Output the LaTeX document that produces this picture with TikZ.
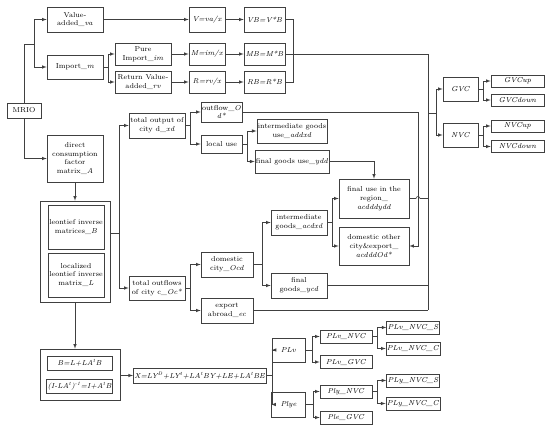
\documentclass[tikz,border=0pt]{standalone}
\usepackage{amsmath}
\usepackage{tikz}
\usetikzlibrary{%
	calc,%
	arrows
}

\tikzset{
	blk/.style={draw=black!75,line width=0.6pt,align=center,inner sep=1pt,
		font=\fontsize{7.2}{8.8}\selectfont},
	sz/.style 2 args={minimum width=#1pt,minimum height=#2pt},
	cn/.style={draw=black!75,line width=0.6pt},
	arr/.style={cn,->,>=latex}
}
\newcommand{\sps}[1]{\textsuperscript{#1}}

\begin{document}
\begin{tikzpicture}[x=1pt,y=-1pt]
			\useasboundingbox (0,0) rectangle (550,427);
			% top rows
			\node[blk,sz={34}{15}] (mrio) at (24,110.5) {MRIO};
			\node[blk,sz={56}{25}] (va) at (75,19.5) {Value-\\added\_\textit{va}};
			\node[blk,sz={56}{24}] (imp) at (75,67) {Import\_\textit{m}};
			\node[blk,sz={56}{22}] (pim) at (143,54) {Pure\\Import\_\textit{im}};
			\node[blk,sz={56}{22}] (rva) at (143,82) {Return Value-\\added\_\textit{rv}};
			\node[blk,sz={36}{25}] (V) at (207,19.5) {\textit{V=va/x}};
			\node[blk,sz={36}{22}] (M) at (207,54) {\textit{M=im/x}};
			\node[blk,sz={36}{22}] (R) at (207,82) {\textit{R=rv/x}};
			\node[blk,sz={41}{25}] (VB) at (264.5,19.5) {\textit{VB=V*B}};
			\node[blk,sz={41}{22}] (MB) at (264.5,54) {\textit{MB=M*B}};
			\node[blk,sz={41}{22}] (RB) at (264.5,82) {\textit{RB=R*B}};
			% left column
			\node[blk,sz={56}{47}] (dcf) at (75,158.5) {direct\\consumption\\factor\\matrix\_\textit{A}};
			\node[blk,sz={70}{101}] (leo) at (75,251.5) {};
			\node[blk,sz={56}{44}] (leoB) at (76,227) {leontief inverse\\matrices\_\textit{B}};
			\node[blk,sz={56}{44}] (leoL) at (76,275) {localized\\leontief inverse\\matrix\_\textit{L}};
			\node[blk,sz={80}{51}] (fout) at (80,374.5) {};
			\node[blk,sz={65}{14}] (fB) at (79.5,363) {\textit{B=L+LA\sps{t}B}};
			\node[blk,sz={65}{14}] (fI) at (79.5,386) {\textit{(I-LA\sps{t})\sps{-1}=I+A\sps{t}B}};
			\node[blk,sz={124}{15},align=left,anchor=west] (X) at (133,375.5)
			{\textit{X=LY\sps{D}+LY\sps{t}+LA\sps{t}BY+LE+LA\sps{t}BE}};
			% middle part
			\node[blk,sz={56}{25}] (tod) at (157,125.5) {total output of\\city d\_\textit{xd}};
			\node[blk,sz={56}{24}] (toc) at (157,288) {total outflows\\of city c\_\textit{Oc*}};
			\node[blk,sz={41}{20}] (outf) at (221.5,112) {outflow\_\textit{O}\\\textit{d*}};
			\node[blk,sz={41}{18}] (lu) at (221.5,144) {local use};
			\node[blk,sz={70}{24}] (igu) at (292,131) {intermediate goods\\use\_\textit{addxd}};
			\node[blk,sz={70}{23}] (fgu) at (292,161.5) {final goods use\_\textit{ydd}};
			\node[blk,sz={70}{39}] (fur) at (374,198.5) {final use in the\\region\_\\\textit{acdddydd}};
			\node[blk,sz={70}{38}] (doc) at (374,246) {domestic other\\city\&export\_\\\textit{acdddOd*}};
			\node[blk,sz={56}{25}] (ig) at (299,222.5) {intermediate\\goods\_\textit{acdxd}};
			\node[blk,sz={52}{25}] (dc) at (227,264.5) {domestic\\city\_\textit{Ocd}};
			\node[blk,sz={56}{25}] (fg) at (299,285.5) {final\\goods\_\textit{ycd}};
			\node[blk,sz={52}{25}] (ea) at (227,310.5) {export\\abroad\_\textit{ec}};
			% bottom right
			\node[blk,sz={33}{24}] (PLv) at (288.5,350) {\textit{PLv}};
			\node[blk,sz={34}{25}] (Plye) at (288.5,404.5) {\textit{Plye}};
			\node[blk,sz={52}{13}] (PLvN) at (346,336.5) {\textit{PLv\_NVC}};
			\node[blk,sz={52}{13}] (PLvG) at (346,362) {\textit{PLv\_GVC}};
			\node[blk,sz={52}{13}] (PlyN) at (346,391.5) {\textit{Ply\_NVC}};
			\node[blk,sz={52}{13}] (PleG) at (346,417.5) {\textit{Ple\_GVC}};
			\node[blk,sz={52}{13}] (PLvNS) at (413,327.5) {\textit{PLv\_NVC\_S}};
			\node[blk,sz={52}{13}] (PLvNC) at (413,348.5) {\textit{PLv\_NVC\_C}};
			\node[blk,sz={52}{13}] (PLyNS) at (413,380.5) {\textit{PLy\_NVC\_S}};
			\node[blk,sz={52}{13}] (PLyNC) at (413,403.5) {\textit{PLy\_NVC\_C}};
			% value chains
			\node[blk,sz={35}{24}] (GVC) at (460.5,89) {\textit{GVC}};
			\node[blk,sz={35}{24}] (NVC) at (460.5,135) {\textit{NVC}};
			\node[blk,sz={53}{12}] (GVCup) at (517.5,81) {\textit{GVCup}};
			\node[blk,sz={53}{12}] (GVCdown) at (517.5,100) {\textit{GVCdown}};
			\node[blk,sz={53}{12}] (NVCup) at (517.5,126) {\textit{NVCup}};
			\node[blk,sz={53}{12}] (NVCdown) at (517.5,146.5) {\textit{NVCdown}};
			% junctions
			\coordinate (mj) at (34,44);
			\coordinate (lj) at (119,233);
			\coordinate (hopx) at (418,0);
			\coordinate (bustop) at (428,54);
			\coordinate (busbot) at (428,310.5);
			\coordinate (gj) at (436,113);
			% connectors
			\draw[cn] (mrio.north) |- (mj);
			\draw[arr] (mj) |- (va.west);
			\draw[arr] (mj) |- (imp.west);
			\draw[arr] (mrio.south) |- (dcf.west);
			\draw[arr] (imp.east) -- ++(5,0) |- (pim.west);
			\draw[arr] (imp.east) -- ++(5,0) |- (rva.west);
			\draw[arr] (va) -- (V);
			\draw[arr] (pim) -- (M);
			\draw[arr] (rva) -- (R);
			\draw[arr] (V) -- (VB);
			\draw[arr] (M) -- (MB);
			\draw[arr] (R) -- (RB);
			\draw[cn] (VB.east) -- ++(8,0) |- (RB.east);
			\draw[cn] (MB.east) -- (bustop) -- (busbot);
			\draw[arr] (dcf.south) -- (leo.north);
			\draw[cn] (leo.east |- lj) -- (lj);
			\draw[arr] (lj) |- (tod.west);
			\draw[arr] (lj) |- (toc.west);
			\draw[arr] (leo.south) -- (leo.south |- fout.north);
			\draw[arr] (X.west -| fout.east) -- (X.west);
			\draw[arr] (tod.east) -- ++(5,0) |- (outf.west);
			\draw[arr] (tod.east) -- ++(5,0) |- (lu.west);
			\draw[arr] (lu.east) -- ++(5,0) |- (igu.west);
			\draw[arr] (lu.east) -- ++(5,0) |- (fgu.west);
			\draw[arr] (fgu.east) -| (fur.north);
			\draw[arr] (toc.east) -- ++(5,0) |- (dc.west);
			\draw[arr] (toc.east) -- ++(5,0) |- (ea.west);
			\draw[arr] (dc.east) -- ++(9,0) |- (ig.west);
			\draw[arr] (dc.east) -- ++(9,0) |- (fg.west);
			\draw[arr] (ig.east) -- ++(5,0) |- (fur.west);
			\draw[arr] (ig.east) -- ++(5,0) |- (doc.west);
			\draw[arr] (outf.east) -- (outf.east -| hopx) |- (doc.east);
			\draw[cn] (fur.east) -- ($(fur.east -| hopx)+(-2,0)$)
			arc[start angle=180,end angle=360,radius=2] -- (fur.east -| bustop);
			\draw[cn] (fg.east) -- (fg.east -| bustop);
			\draw[cn] (ea.east) -- (busbot);
			\draw[cn] (bustop |- gj) -- (gj);
			\draw[arr] (gj) |- (GVC.west);
			\draw[arr] (gj) |- (NVC.west);
			\draw[arr] (GVC.east) -- ++(5,0) |- (GVCup.west);
			\draw[arr] (GVC.east) -- ++(5,0) |- (GVCdown.west);
			\draw[arr] (NVC.east) -- ++(5,0) |- (NVCup.west);
			\draw[arr] (NVC.east) -- ++(5,0) |- (NVCdown.west);
			\draw[arr] (X.east) -- ++(6,0) |- (PLv.west);
			\draw[arr] (X.east) -- ++(6,0) |- (Plye.west);
			\draw[arr] (PLv.east) -- ++(7,0) |- (PLvN.west);
			\draw[arr] (PLv.east) -- ++(7,0) |- (PLvG.west);
			\draw[arr] (Plye.east) -- ++(7,0) |- (PlyN.west);
			\draw[arr] (Plye.east) -- ++(7,0) |- (PleG.west);
			\draw[arr] (PLvN.east) -- ++(5,0) |- (PLvNS.west);
			\draw[arr] (PLvN.east) -- ++(5,0) |- (PLvNC.west);
			\draw[arr] (PlyN.east) -- ++(5,0) |- (PLyNS.west);
			\draw[arr] (PlyN.east) -- ++(5,0) |- (PLyNC.west);
		\end{tikzpicture}
\end{document}
